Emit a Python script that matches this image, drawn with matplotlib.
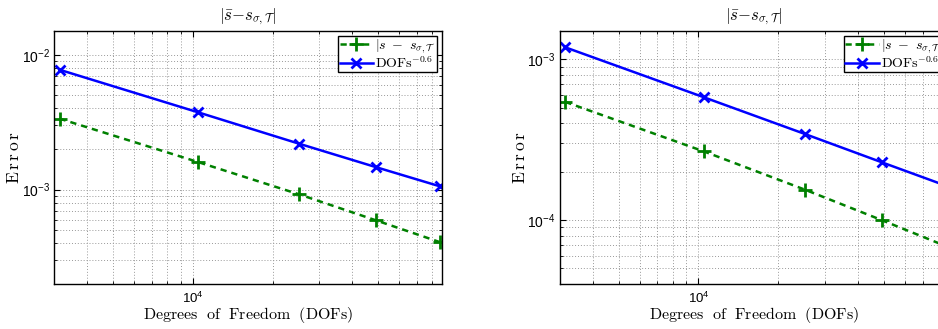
import matplotlib
matplotlib.use("Agg")
import matplotlib.pyplot as plt
from matplotlib.ticker import NullFormatter

plt.rcParams['font.family'] = ['Liberation Sans', 'DejaVu Sans']

dofs = [3150, 10500, 25200, 49000, 85300]

# left panel
err_left = [3.36e-3, 1.60e-3, 9.23e-4, 5.93e-4, 4.09e-4]
rate_left = [7.74e-3, 3.74e-3, 2.19e-3, 1.47e-3, 1.06e-3]
# right panel
err_right = [5.43e-4, 2.67e-4, 1.545e-4, 1.0e-4, 6.9e-5]
rate_right = [1.187e-3, 5.80e-4, 3.43e-4, 2.29e-4, 1.64e-4]

xlim = (3000, 87000)
ylim_left = (2e-4, 1.5e-2)
ylim_right = (4e-5, 1.5e-3)

title = r'$|\bar{s}{-}s_{\sigma,\mathcal{T}}|$'
label_err = r'$|s\ -\ s_{\sigma,\mathcal{T}}$'
label_rate = r'$\mathrm{DOFs}^{-0.6}$'
xlabel = r'$\mathrm{Degrees\ \ of\ \ Freedom\ \ (DOFs)}$'
ylabel = r'$\mathrm{E\,r\,r\,o\,r}$'

fig = plt.figure(figsize=(9.38, 3.29), dpi=100)
W, H = 938, 329
ax1 = fig.add_axes([54 / W, 45 / H, 388 / W, 253 / H])
ax2 = fig.add_axes([559.7 / W, 45 / H, 388 / W, 253 / H])

green = '#008000'
blue = '#0000ff'

for ax, err, rate, ylim in [(ax1, err_left, rate_left, ylim_left),
                            (ax2, err_right, rate_right, ylim_right)]:
    ax.set_xscale('log')
    ax.set_yscale('log')
    ax.plot(dofs, err, linestyle='--', color=green, marker='+', markersize=10,
            markeredgewidth=2, linewidth=1.8, label=label_err, dashes=(2.5, 2.0))
    ax.plot(dofs, rate, linestyle='-', color=blue, marker='x', markersize=7,
            markeredgewidth=2, linewidth=1.8, label=label_rate)
    ax.set_xlim(*xlim)
    ax.set_ylim(*ylim)
    ax.grid(True, which='both', linestyle=(0, (1, 2)), color='0.6', linewidth=0.7)
    ax.tick_params(which='both', direction='in', top=True, right=True, labelsize=10)
    ax.tick_params(axis='x', pad=5, labelsize=9.5)
    ax.tick_params(axis='y', pad=3)
    ax.tick_params(which='major', length=4)
    ax.tick_params(which='minor', length=2)
    ax.xaxis.set_minor_formatter(NullFormatter())
    ax.yaxis.set_minor_formatter(NullFormatter())
    for sp in ax.spines.values():
        sp.set_linewidth(1.0)
    t = ax.set_title(title, fontsize=12, pad=8)
    t.set_math_fontfamily('cm')
    xl = ax.set_xlabel(xlabel, fontsize=11.5, labelpad=-1)
    xl.set_math_fontfamily('cm')
    yl = ax.set_ylabel(ylabel, fontsize=12.5, labelpad=-0.5)
    yl.set_math_fontfamily('cm')
    leg = ax.legend(loc='upper right', fontsize=10, frameon=True, fancybox=False,
                    edgecolor='black', framealpha=1, borderpad=0.1,
                    handlelength=2.4, handletextpad=0.15, labelspacing=0.0,
                    borderaxespad=0.35)
    leg.get_frame().set_linewidth(1.0)
    for txt in leg.get_texts():
        txt.set_math_fontfamily('cm')

fig.savefig('out.png', dpi=100)
